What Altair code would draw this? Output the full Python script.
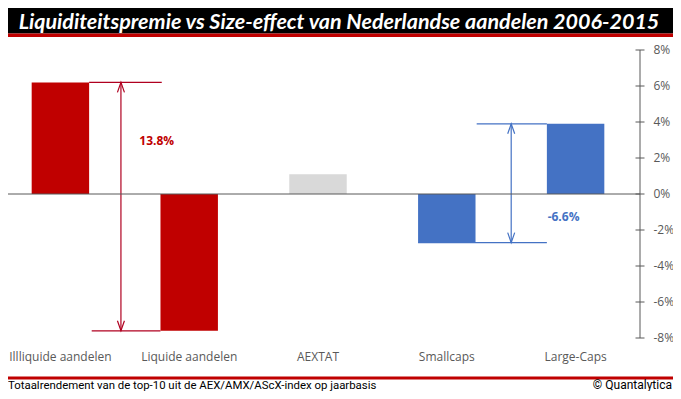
import altair as alt
import pandas as pd

# ---------------- data ----------------
categories = ["Illliquide aandelen", "Liquide aandelen", "AEXTAT", "Smallcaps", "Large-Caps"]
returns = [6.2, -7.6, 1.1, -2.7, 3.9]          # annual total return, %
bar_colors = ["#C00000", "#C00000", "#D9D9D9", "#4472C4", "#4472C4"]
y_ticks = [-8, -6, -4, -2, 0, 2, 4, 6, 8]
title_text = "Liquiditeitspremie vs Size-effect van Nederlandse aandelen 2006-2015"
footer_left = "Totaalrendement van de top-10 uit de AEX/AMX/AScX-index op jaarbasis"
footer_right = "© Quantalytica"

liq_spread = round(returns[0] - returns[1], 1)    # 13.8
size_spread = round(returns[3] - returns[4], 1)   # -6.6

# ---------------- layout ----------------
W, H = 632, 340
PAD_R, PAD_B = 33, 43
CW, CH = W + PAD_R, H + PAD_B
X_RANGE = [-12, W]
Y_RANGE = [330, 42]
n = len(categories)
STEP = (X_RANGE[1] - X_RANGE[0]) / n
BAR_FRAC = 0.446
half = BAR_FRAC / 2

RED_ANN = "#B00020"
BLUE_ANN = "#4472C4"
AXIS_COL = "#595959"
LABEL_FONT = "Open Sans"

xband = alt.Scale(domain=categories, range=X_RANGE,
                  paddingInner=1 - BAR_FRAC, paddingOuter=(1 - BAR_FRAC) / 2)
yscale = alt.Scale(domain=[y_ticks[0], y_ticks[-1]], range=Y_RANGE)
xq = alt.Scale(domain=[0, n], range=X_RANGE)

df = pd.DataFrame({"cat": categories, "ret": returns})

bars = alt.Chart(df).mark_bar().encode(
    x=alt.X("cat:N", sort=categories, scale=xband,
            axis=alt.Axis(orient="bottom", domain=False, ticks=False, labelAngle=0,
                          labelPadding=3, labelFontSize=12, labelColor=AXIS_COL,
                          labelFont=LABEL_FONT, title=None, grid=False,
                          labelOverlap=False)),
    y=alt.Y("ret:Q", scale=yscale, axis=None),
    color=alt.Color("cat:N", scale=alt.Scale(domain=categories, range=bar_colors), legend=None),
)

# axis lines (zero line + vertical value axis)
axis_lines = pd.DataFrame({
    "x": [0, n], "x2": [n, n], "y": [0, y_ticks[0]], "y2": [0, y_ticks[-1]],
})
axis_layer = alt.Chart(axis_lines).mark_rule(color=AXIS_COL, strokeWidth=1).encode(
    x=alt.X("x:Q", scale=xq, axis=None), x2="x2:Q",
    y=alt.Y("y:Q", scale=yscale, axis=None), y2="y2:Q",
)

# value-axis ticks (crossing the axis line) and labels
tick_half = 4.5 / STEP
tick_df = pd.DataFrame({
    "y": y_ticks,
    "x": [n - tick_half] * len(y_ticks),
    "x2": [n + tick_half] * len(y_ticks),
    "xl": [n + 13.5 / STEP] * len(y_ticks),
    "lbl": [f"{v}%" for v in y_ticks],
})
tick_layer = alt.Chart(tick_df).mark_rule(color=AXIS_COL, strokeWidth=1).encode(
    x=alt.X("x:Q", scale=xq, axis=None), x2="x2:Q",
    y=alt.Y("y:Q", scale=yscale, axis=None),
)
tick_lbl_layer = alt.Chart(tick_df).mark_text(align="left", baseline="middle", fontSize=12,
                                              font=LABEL_FONT, color=AXIS_COL).encode(
    x=alt.X("xl:Q", scale=xq, axis=None),
    y=alt.Y("y:Q", scale=yscale, axis=None),
    text="lbl:N",
)

# annotation segments
red_arrow_x = 0.97
blue_arrow_x = 4.0
segs = pd.DataFrame([
    # red: liquidity premium
    {"x": 0.5 + half, "x2": 1.5 - half + 0.01, "y": returns[0], "y2": returns[0], "c": RED_ANN},
    {"x": 0.743, "x2": 1.5 - half, "y": returns[1], "y2": returns[1], "c": RED_ANN},
    {"x": red_arrow_x, "x2": red_arrow_x, "y": returns[0], "y2": returns[1], "c": RED_ANN},
    # blue: size effect
    {"x": 3.732, "x2": 4.5 - half, "y": returns[4], "y2": returns[4], "c": BLUE_ANN},
    {"x": 3.5 - half, "x2": 4.5 - half, "y": returns[3], "y2": returns[3], "c": BLUE_ANN},
    {"x": blue_arrow_x, "x2": blue_arrow_x, "y": returns[4], "y2": returns[3], "c": BLUE_ANN},
])
seg_layer = alt.Chart(segs).mark_rule(strokeWidth=1.2).encode(
    x=alt.X("x:Q", scale=xq, axis=None), x2="x2:Q",
    y=alt.Y("y:Q", scale=yscale, axis=None), y2="y2:Q",
    color=alt.Color("c:N", scale=None),
)

heads_up = pd.DataFrame({"x": [red_arrow_x, blue_arrow_x], "y": [returns[0], returns[4]],
                         "c": [RED_ANN, BLUE_ANN]})
heads_dn = pd.DataFrame({"x": [red_arrow_x, blue_arrow_x], "y": [returns[1], returns[3]],
                         "c": [RED_ANN, BLUE_ANN]})
up_layer = alt.Chart(heads_up).mark_point(shape="M -0.7 2 L 0 0 L 0.7 2", filled=False,
                                          size=100, strokeWidth=1.2, opacity=1).encode(
    x=alt.X("x:Q", scale=xq, axis=None),
    y=alt.Y("y:Q", scale=yscale, axis=None),
    color=alt.Color("c:N", scale=None),
)
dn_layer = alt.Chart(heads_dn).mark_point(shape="M -0.7 -2 L 0 0 L 0.7 -2", filled=False,
                                          size=100, strokeWidth=1.2, opacity=1).encode(
    x=alt.X("x:Q", scale=xq, axis=None),
    y=alt.Y("y:Q", scale=yscale, axis=None),
    color=alt.Color("c:N", scale=None),
)

labels = pd.DataFrame({
    "x": [1.113, 4.283],
    "y": [2.96, -1.3],
    "t": [f"{liq_spread:.1f}%", f"{size_spread:.1f}%"],
    "c": ["#C00000", BLUE_ANN],
})
label_layer = alt.Chart(labels).mark_text(align="left", baseline="middle", fontSize=12,
                                          fontWeight="bold", font=LABEL_FONT).encode(
    x=alt.X("x:Q", scale=xq, axis=None),
    y=alt.Y("y:Q", scale=yscale, axis=None),
    text="t:N",
    color=alt.Color("c:N", scale=None),
)

# title bar and footer decorations
one = pd.DataFrame({"a": [0]})
title_black = alt.Chart(one).mark_rect(color="#000000").encode(
    x=alt.value(0), x2=alt.value(CW), y=alt.value(0), y2=alt.value(25.5))
title_red = alt.Chart(one).mark_rect(color="#C00000").encode(
    x=alt.value(0), x2=alt.value(CW), y=alt.value(25.5), y2=alt.value(29))
title_txt = alt.Chart(one).mark_text(align="center", baseline="alphabetic", font="Lato",
                                     fontStyle="italic", fontWeight="bold", fontSize=21.5,
                                     color="white").encode(
    x=alt.value(331), y=alt.value(20.5), text=alt.value(title_text))
footer_red = alt.Chart(one).mark_rect(color="#C00000").encode(
    x=alt.value(0), x2=alt.value(CW), y=alt.value(368.5), y2=alt.value(371.5))
footer_l = alt.Chart(one).mark_text(align="left", baseline="alphabetic", font="Roboto",
                                    fontSize=11.4, color="#000000").encode(
    x=alt.value(0), y=alt.value(381), text=alt.value(footer_left))
footer_r = alt.Chart(one).mark_text(align="right", baseline="alphabetic", font="Roboto",
                                    fontSize=12, color="#000000").encode(
    x=alt.value(CW - 1), y=alt.value(381), text=alt.value(footer_right))

chart = alt.layer(
    title_black, title_red, title_txt,
    seg_layer, bars, axis_layer, tick_layer, tick_lbl_layer,
    up_layer, dn_layer, label_layer,
    footer_red, footer_l, footer_r,
).resolve_scale(x="independent").properties(
    width=W, height=H, autosize="none",
    padding={"left": 0, "top": 0, "right": PAD_R, "bottom": PAD_B},
    background="white",
).configure_view(stroke=None)

chart.save("out.html", embed_options={"renderer": "svg", "actions": False})
